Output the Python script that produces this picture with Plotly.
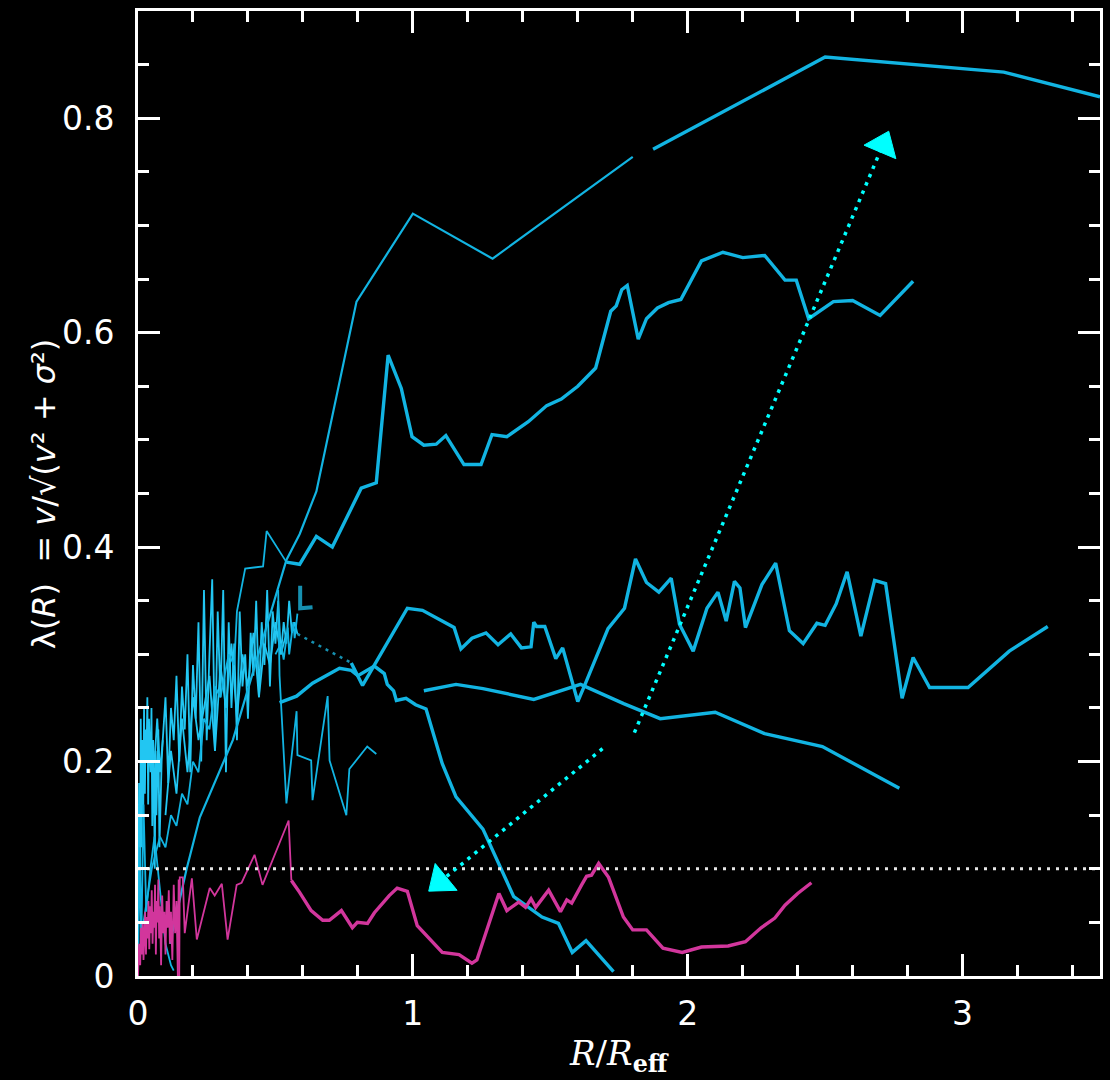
import plotly.graph_objects as go

# ---------------- data ----------------
# Line A: inner thin part, outer thick part (gap near R/Reff = 1.8)
A_in_x = [0.116, 0.177, 0.225, 0.345, 0.54, 0.588, 0.649, 0.795, 1.0, 1.29, 1.80]
A_in_y = [0.03, 0.10, 0.148, 0.22, 0.388, 0.412, 0.452, 0.629, 0.711, 0.669, 0.764]
A_out_x = [1.874, 2.50, 3.15, 3.50]
A_out_y = [0.771, 0.857, 0.843, 0.820]

# Line B
B_in_x = [0.02, 0.05, 0.08, 0.10, 0.12, 0.14, 0.16, 0.18, 0.20, 0.22, 0.24, 0.26, 0.28, 0.30,
          0.33, 0.35, 0.36, 0.38, 0.39, 0.455, 0.468, 0.54]
B_in_y = [0.05, 0.10, 0.13, 0.12, 0.15, 0.14, 0.17, 0.16, 0.20, 0.19, 0.24, 0.23, 0.27, 0.26,
          0.30, 0.29, 0.34, 0.365, 0.38, 0.382, 0.415, 0.386]
B_out_x = [0.54, 0.588, 0.649, 0.707, 0.812, 0.867, 0.91, 0.958, 0.997, 1.04, 1.085, 1.12, 1.186,
           1.248, 1.288, 1.342, 1.42, 1.487, 1.54, 1.60, 1.665, 1.69, 1.72, 1.74, 1.76, 1.78, 1.82,
           1.85, 1.89, 1.93, 1.975, 2.05, 2.128, 2.20, 2.28, 2.354, 2.395, 2.44, 2.53, 2.60, 2.70, 2.82]
B_out_y = [0.386, 0.384, 0.41, 0.40, 0.455, 0.46, 0.579, 0.548, 0.503, 0.495, 0.496, 0.504, 0.477,
           0.477, 0.505, 0.503, 0.517, 0.532, 0.538, 0.55, 0.567, 0.59, 0.62, 0.625, 0.64, 0.644, 0.594,
           0.613, 0.623, 0.628, 0.631, 0.667, 0.675, 0.67, 0.672, 0.649, 0.649, 0.613, 0.629, 0.63, 0.616, 0.648]

# Line C: noisy inner part, dotted bridge, spiky outer part
C_in_x = [0.06, 0.07, 0.08, 0.09, 0.10, 0.11, 0.12, 0.13, 0.14, 0.15, 0.16, 0.17, 0.18, 0.19, 0.20,
          0.21, 0.22, 0.23, 0.24, 0.25, 0.26, 0.27, 0.28, 0.29, 0.30, 0.31, 0.32, 0.33, 0.34, 0.35,
          0.36, 0.37, 0.38, 0.39, 0.40, 0.41, 0.42, 0.43, 0.44, 0.45, 0.46, 0.47, 0.48, 0.49, 0.50,
          0.51, 0.52, 0.53, 0.54, 0.55, 0.56, 0.57, 0.58]
C_in_y = [0.20, 0.24, 0.19, 0.22, 0.26, 0.18, 0.25, 0.22, 0.28, 0.20, 0.27, 0.23, 0.30, 0.19, 0.29,
          0.24, 0.33, 0.20, 0.36, 0.22, 0.30, 0.37, 0.21, 0.34, 0.26, 0.36, 0.19, 0.33, 0.25, 0.31,
          0.22, 0.34, 0.27, 0.30, 0.24, 0.32, 0.28, 0.35, 0.26, 0.33, 0.29, 0.36, 0.27, 0.34, 0.31,
          0.35, 0.30, 0.33, 0.31, 0.35, 0.32, 0.33, 0.319]
C_gap_x = [0.58, 0.776]
C_gap_y = [0.319, 0.292]
C_out_x = [0.776, 0.817, 0.98, 1.035, 1.15, 1.175, 1.215, 1.266, 1.31, 1.356, 1.395, 1.43, 1.44, 1.45,
           1.48, 1.52, 1.545, 1.60, 1.625, 1.71, 1.77, 1.81, 1.85, 1.895, 1.94, 1.97, 2.02, 2.07, 2.11,
           2.14, 2.17, 2.19, 2.21, 2.27, 2.32, 2.37, 2.42, 2.47, 2.50, 2.54, 2.58, 2.63, 2.68, 2.72,
           2.78, 2.82, 2.88, 3.02, 3.17, 3.31]
C_out_y = [0.292, 0.271, 0.343, 0.341, 0.325, 0.305, 0.315, 0.32, 0.309, 0.319, 0.306, 0.307, 0.33, 0.326,
           0.326, 0.296, 0.306, 0.256, 0.271, 0.324, 0.343, 0.389, 0.367, 0.358, 0.371, 0.328, 0.303, 0.343,
           0.358, 0.331, 0.368, 0.362, 0.325, 0.365, 0.385, 0.322, 0.31, 0.329, 0.327, 0.347, 0.377, 0.317,
           0.369, 0.366, 0.259, 0.297, 0.269, 0.269, 0.303, 0.326]

# Line D (falls to zero)
D_x = [0.515, 0.577, 0.635, 0.733, 0.776, 0.80, 0.86, 0.896, 0.907, 0.92, 0.93, 0.94, 0.975, 1.01,
       1.048, 1.107, 1.157, 1.255, 1.313, 1.367, 1.47, 1.53, 1.58, 1.63, 1.73]
D_y = [0.255, 0.261, 0.273, 0.287, 0.285, 0.28, 0.289, 0.282, 0.272, 0.269, 0.266, 0.257, 0.259, 0.253,
       0.249, 0.198, 0.167, 0.137, 0.104, 0.074, 0.055, 0.049, 0.022, 0.033, 0.004]

# Line E (flat, slowly declining)
E_x = [1.04, 1.157, 1.255, 1.44, 1.61, 1.767, 1.90, 2.10, 2.28, 2.49, 2.77]
E_y = [0.266, 0.272, 0.268, 0.258, 0.272, 0.254, 0.24, 0.246, 0.226, 0.214, 0.175]

# Line F (thin, spiky)
F_x = [0.51, 0.515, 0.54, 0.577, 0.58, 0.63, 0.635, 0.69, 0.697, 0.758, 0.769, 0.834, 0.867]
F_y = [0.36, 0.28, 0.161, 0.247, 0.206, 0.201, 0.164, 0.261, 0.201, 0.15, 0.193, 0.214, 0.207]

# Extra noisy cyan profiles near the centre
G_x = [0.10, 0.12, 0.14, 0.16, 0.18, 0.20, 0.22, 0.24, 0.26, 0.28, 0.30, 0.32, 0.34, 0.36, 0.38,
       0.40, 0.42, 0.44, 0.46, 0.48, 0.50, 0.52, 0.54]
G_y = [0.15, 0.21, 0.17, 0.24, 0.19, 0.26, 0.22, 0.25, 0.28, 0.21, 0.29, 0.25, 0.31, 0.24, 0.30,
       0.27, 0.32, 0.26, 0.31, 0.29, 0.33, 0.30, 0.32]
H_x = [0.000, 0.004, 0.008, 0.010, 0.013, 0.016, 0.019, 0.022, 0.025, 0.028, 0.031, 0.034, 0.037,
       0.040, 0.043, 0.046, 0.049, 0.052, 0.055, 0.058, 0.061, 0.064, 0.067, 0.070, 0.074, 0.078,
       0.082, 0.086, 0.090]
H_y = [0.05, 0.18, 0.09, 0.24, 0.12, 0.22, 0.15, 0.25, 0.17, 0.23, 0.20, 0.26, 0.16, 0.24, 0.21,
       0.19, 0.25, 0.14, 0.22, 0.18, 0.10, 0.21, 0.15, 0.19, 0.23, 0.12, 0.17, 0.20, 0.22]
J_x = [0.0, 0.006, 0.012, 0.02, 0.03, 0.045, 0.06, 0.08, 0.10, 0.12, 0.13]
J_y = [0.0, 0.12, 0.03, 0.16, 0.06, 0.10, 0.13, 0.08, 0.03, 0.01, 0.005]
K_x = [0.50, 0.52, 0.53, 0.545, 0.55, 0.565, 0.57, 0.58]
K_y = [0.30, 0.31, 0.295, 0.325, 0.30, 0.33, 0.315, 0.338]
T_x = [0.59, 0.59, 0.635]
T_y = [0.364, 0.343, 0.344]

# Magenta profile
Md_x = [0.000, 0.004, 0.008, 0.011, 0.014, 0.017, 0.020, 0.023, 0.026, 0.029, 0.032, 0.035, 0.038,
        0.041, 0.044, 0.047, 0.050, 0.053, 0.056, 0.059, 0.062, 0.065, 0.068, 0.071, 0.074, 0.077,
        0.080, 0.084, 0.088, 0.092, 0.096, 0.100, 0.104, 0.108, 0.112, 0.116, 0.120, 0.125, 0.130,
        0.135, 0.140, 0.145, 0.148]
Md_y = [0.0, 0.03, 0.01, 0.045, 0.02, 0.05, 0.015, 0.04, 0.06, 0.02, 0.055, 0.035, 0.07, 0.025,
        0.065, 0.04, 0.08, 0.03, 0.06, 0.045, 0.085, 0.02, 0.07, 0.05, 0.09, 0.035, 0.065, 0.01,
        0.075, 0.04, 0.06, 0.02, 0.07, 0.045, 0.08, 0.03, 0.06, 0.015, 0.085, 0.04, 0.07, 0.0, 0.09]
Mt_x = [0.15, 0.152, 0.163, 0.17, 0.196, 0.214, 0.261, 0.279, 0.305, 0.326, 0.359, 0.377, 0.424,
        0.453, 0.548, 0.558]
Mt_y = [0.0, 0.092, 0.092, 0.04, 0.091, 0.034, 0.082, 0.075, 0.086, 0.034, 0.085, 0.087, 0.113,
        0.085, 0.145, 0.089]
Mk_x = [0.558, 0.588, 0.63, 0.672, 0.696, 0.74, 0.78, 0.798, 0.835, 0.86, 0.914, 0.943, 0.98, 1.016,
        1.107, 1.168, 1.215, 1.233, 1.313, 1.342, 1.385, 1.41, 1.43, 1.447, 1.494, 1.537, 1.56, 1.578,
        1.614, 1.632, 1.65, 1.676, 1.712, 1.737, 1.766, 1.80, 1.85, 1.91, 1.98, 2.05, 2.147, 2.21,
        2.267, 2.317, 2.354, 2.40, 2.45]
Mk_y = [0.089, 0.078, 0.061, 0.052, 0.052, 0.061, 0.045, 0.05, 0.049, 0.059, 0.075, 0.082, 0.079, 0.047,
        0.022, 0.02, 0.012, 0.015, 0.077, 0.061, 0.069, 0.064, 0.072, 0.064, 0.08, 0.06, 0.071, 0.068,
        0.085, 0.093, 0.094, 0.105, 0.092, 0.074, 0.055, 0.043, 0.043, 0.026, 0.022, 0.027, 0.028, 0.032,
        0.045, 0.054, 0.066, 0.077, 0.087]

# Reference level and arrows
REF_x = [0.0, 3.5]
REF_y = [0.1, 0.1]
ARR1_x = [1.806, 2.71]
ARR1_y = [0.227, 0.775]
ARR2_x = [1.69, 1.10]
ARR2_y = [0.212, 0.088]

# Axes ticks
X_TICKS = [0, 1, 2, 3]
X_TICK_LABELS = ["0", "1", "2", "3"]
X_MINOR = [0.2, 0.4, 0.6, 0.8, 1.2, 1.4, 1.6, 1.8, 2.2, 2.4, 2.6, 2.8, 3.2, 3.4]
Y_TICKS = [0, 0.2, 0.4, 0.6, 0.8]
Y_TICK_LABELS = ["0", "0.2", "0.4", "0.6", "0.8"]
Y_MINOR = [0.05, 0.1, 0.15, 0.25, 0.3, 0.35, 0.45, 0.5, 0.55, 0.65, 0.7, 0.75, 0.85]

# ---------------- figure ----------------
CYAN = '#12b4e2'
CYAN_B = '#22c6f2'
TEAL = '#1690b0'
MAG = '#d2369c'
ARROW = '#00ffff'
THIN = 1.8
THICK = 3.4

fig = go.Figure()


def add(x, y, color, width, dash=None):
    fig.add_trace(go.Scatter(x=x, y=y, mode='lines',
                             line=dict(color=color, width=width, dash=dash),
                             hoverinfo='skip', showlegend=False))


add(H_x, H_y, CYAN_B, THIN)
add(J_x, J_y, CYAN, THIN)
add(G_x, G_y, CYAN_B, THIN)
add(C_in_x, C_in_y, CYAN_B, THIN)
add(K_x, K_y, CYAN, THIN)
add(C_gap_x, C_gap_y, TEAL, 2.5, '3px,5px')
add(T_x, T_y, TEAL, 4)
add(A_in_x, A_in_y, CYAN, 2.2)
add(A_out_x, A_out_y, CYAN, THICK)
add(B_in_x, B_in_y, CYAN, THIN)
add(B_out_x, B_out_y, CYAN, THICK)
add(C_out_x, C_out_y, CYAN, THICK)
add(D_x, D_y, CYAN, THICK)
add(E_x, E_y, CYAN, THICK)
add(F_x, F_y, CYAN, THIN)
add(Md_x, Md_y, MAG, THIN)
add(Mt_x, Mt_y, MAG, THIN)
add(Mk_x, Mk_y, MAG, THICK)
add(REF_x, REF_y, '#e6e6e6', 3, '3px,6px')

for ax, ay in ((ARR1_x, ARR1_y), (ARR2_x, ARR2_y)):
    add(ax, ay, ARROW, 3.5, '3.5px,5.5px')
    fig.add_trace(go.Scatter(
        x=ax, y=ay, mode='markers',
        marker=dict(symbol='triangle-up', size=[0, 30], color=ARROW, opacity=1,
                    angleref='previous', line=dict(width=1, color=ARROW)),
        hoverinfo='skip', showlegend=False))

tickfont = dict(family='DejaVu Sans', size=33, color='white')
common = dict(ticks='inside', ticklen=22, tickwidth=3, tickcolor='white',
              showline=True, linewidth=3, linecolor='white', mirror='ticks',
              showgrid=False, zeroline=False, tickfont=tickfont)

fig.update_xaxes(range=[0, 3.5], tickmode='array', tickvals=X_TICKS, ticktext=X_TICK_LABELS,
                 ticklabelstandoff=6,
                 minor=dict(tickmode='array', tickvals=X_MINOR, ticks='inside', ticklen=11,
                            tickwidth=2.5, tickcolor='white', showgrid=False),
                 **common)
fig.update_yaxes(range=[0, 0.9], tickmode='array', tickvals=Y_TICKS, ticktext=Y_TICK_LABELS,
                 ticklabelstandoff=14,
                 minor=dict(tickmode='array', tickvals=Y_MINOR, ticks='inside', ticklen=11,
                            tickwidth=2.5, tickcolor='white', showgrid=False),
                 **common)

fig.add_annotation(
    text="<i>R</i>/<i>R</i><sub><b>eff</b></sub>",
    xref='paper', yref='paper', x=0.5, y=-0.082, xanchor='center', yanchor='middle',
    showarrow=False, font=dict(family='DejaVu Serif', size=34, color='white'))
fig.add_annotation(
    text="λ(<i>R</i>)\u00a0\u00a0=\u00a0<i>v</i>/√(<i>v</i>²\u00a0+\u00a0<i>σ</i>²)",
    xref='paper', yref='paper', x=-0.098, y=0.5, xanchor='center', yanchor='middle',
    textangle=-90, showarrow=False,
    font=dict(family='DejaVu Sans', size=32, color='white'))

fig.update_layout(width=1110, height=1080, paper_bgcolor='black', plot_bgcolor='black',
                  margin=dict(l=138, r=7, t=11, b=104), showlegend=False)

fig.write_html("out.html")
